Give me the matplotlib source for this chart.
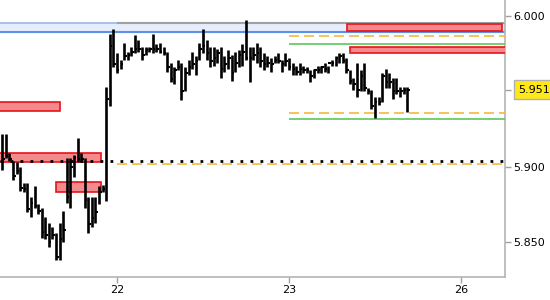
import matplotlib
matplotlib.use('Agg')
import matplotlib.pyplot as plt
from matplotlib.patches import Rectangle

# 30 minute bars
highs = [5.922, 5.922, 5.909, 5.904, 5.903, 5.900, 5.889, 5.889, 5.880, 5.887,
         5.875, 5.873, 5.867, 5.863, 5.860, 5.856, 5.863, 5.871, 5.906, 5.906,
         5.908, 5.919, 5.909, 5.906, 5.880, 5.880, 5.880, 5.887, 5.888, 5.953,
         5.988, 5.991, 5.975, 5.971, 5.982, 5.976, 5.979, 5.987, 5.984, 5.979,
         5.979, 5.979, 5.988, 5.981, 5.982, 5.979, 5.976, 5.969, 5.966, 5.971,
         5.969, 5.966, 5.971, 5.976, 5.973, 5.982, 5.991, 5.984, 5.979, 5.979,
         5.978, 5.979, 5.973, 5.977, 5.974, 5.976, 5.977, 5.981, 5.997, 5.979,
         5.979, 5.982, 5.979, 5.975, 5.973, 5.972, 5.973, 5.975, 5.971, 5.975,
         5.972, 5.969, 5.967, 5.969, 5.967, 5.966, 5.964, 5.965, 5.967, 5.967,
         5.969, 5.967, 5.971, 5.973, 5.975, 5.975, 5.972, 5.964, 5.959, 5.969,
         5.964, 5.969, 5.952, 5.951, 5.946, 5.946, 5.962, 5.965, 5.962, 5.959,
         5.959, 5.953, 5.953, 5.953]
lows = [5.898, 5.906, 5.904, 5.891, 5.895, 5.884, 5.883, 5.870, 5.867, 5.873,
        5.869, 5.853, 5.852, 5.847, 5.852, 5.838, 5.838, 5.850, 5.876, 5.873,
        5.893, 5.903, 5.903, 5.873, 5.856, 5.860, 5.863, 5.875, 5.883, 5.877,
        5.940, 5.966, 5.962, 5.965, 5.971, 5.971, 5.973, 5.975, 5.976, 5.971,
        5.974, 5.976, 5.975, 5.976, 5.975, 5.974, 5.963, 5.956, 5.955, 5.964,
        5.944, 5.950, 5.961, 5.965, 5.961, 5.971, 5.975, 5.971, 5.966, 5.967,
        5.969, 5.959, 5.963, 5.965, 5.957, 5.963, 5.966, 5.967, 5.971, 5.956,
        5.971, 5.969, 5.966, 5.964, 5.966, 5.963, 5.969, 5.969, 5.963, 5.967,
        5.964, 5.961, 5.961, 5.961, 5.962, 5.962, 5.956, 5.959, 5.962, 5.962,
        5.963, 5.962, 5.967, 5.967, 5.969, 5.969, 5.962, 5.955, 5.951, 5.946,
        5.950, 5.950, 5.948, 5.938, 5.932, 5.941, 5.943, 5.952, 5.952, 5.945,
        5.948, 5.946, 5.948, 5.936]
closes = [5.905, 5.907, 5.905, 5.894, 5.897, 5.886, 5.885, 5.872, 5.876, 5.874,
          5.871, 5.857, 5.855, 5.850, 5.855, 5.840, 5.852, 5.858, 5.880, 5.900,
          5.906, 5.905, 5.905, 5.878, 5.862, 5.866, 5.870, 5.883, 5.885, 5.945,
          5.980, 5.968, 5.964, 5.968, 5.973, 5.974, 5.976, 5.978, 5.978, 5.974,
          5.977, 5.978, 5.978, 5.978, 5.976, 5.975, 5.966, 5.958, 5.964, 5.966,
          5.950, 5.962, 5.966, 5.968, 5.970, 5.978, 5.980, 5.975, 5.970, 5.972,
          5.975, 5.965, 5.968, 5.972, 5.962, 5.969, 5.974, 5.976, 5.972, 5.972,
          5.974, 5.975, 5.970, 5.968, 5.969, 5.968, 5.971, 5.970, 5.968, 5.970,
          5.966, 5.965, 5.963, 5.965, 5.964, 5.964, 5.960, 5.964, 5.964, 5.966,
          5.965, 5.969, 5.969, 5.972, 5.973, 5.970, 5.964, 5.957, 5.955, 5.951,
          5.960, 5.952, 5.950, 5.940, 5.943, 5.943, 5.960, 5.956, 5.956, 5.950,
          5.950, 5.950, 5.951, 5.951]

first_bar = -32          # first bar, counted from the start of day 22
day_starts = [0, 48, 96]
day_labels = ['22', '23', '26']

# levels
band_low = 5.989
band_high = 5.995
gray_level = 5.9955
dotted_level = 5.9038
orange_levels = [5.9017, 5.9868, 5.9354]
orange_from = [0, 48, 48]
green_levels = [5.9813, 5.9316]
green_from = [48, 48]

# red zones
box_left = [-33, -33, -17, 64.2, 65]
box_right = [-15.9, -4.5, -4.5, 107.4, 110]
box_low = [5.9369, 5.9034, 5.8836, 5.9899, 5.9751]
box_high = [5.9427, 5.9090, 5.8898, 5.9942, 5.9790]

last_price = closes[-1]

fig = plt.figure(figsize=(5.5, 3), dpi=100)
ax = fig.add_axes([0, 0.0777, 505 / 550, 1 - 0.0777])
xmin, xmax = -32.65, 108.3

# blue band
ax.axhspan(band_low, band_high, color='#E6EDFC', zorder=1)
ax.axhline(band_high, color='#9DB6E6', lw=1.2, zorder=2)
ax.axhline(band_low, color='#5E90E8', lw=1.5, zorder=2)
ax.hlines(gray_level, 0, xmax, color='#A0A0A0', lw=1.5, zorder=2)

for i in range(len(box_left)):
    ax.add_patch(Rectangle((box_left[i], box_low[i]), box_right[i] - box_left[i],
                           box_high[i] - box_low[i], facecolor='#F48A8C',
                           edgecolor='#E8131B', lw=1.2, zorder=3))

for lv, x0 in zip(orange_levels, orange_from):
    ax.hlines(lv, x0, xmax, color='#F5B840', lw=1.2, linestyles=(0, (6, 3)), zorder=3)
for lv, x0 in zip(green_levels, green_from):
    ax.hlines(lv, x0, xmax, color='#5CC75C', lw=1.2, zorder=3)

ax.hlines(dotted_level, xmin, xmax, color='black', lw=2, linestyles=(0, (1, 2.6)), zorder=4)

xs = [first_bar + i for i in range(len(highs))]
ax.vlines(xs, lows, highs, color='black', lw=1.9, zorder=5)
ax.hlines(closes, xs, [x + 0.7 for x in xs], color='black', lw=1.5, zorder=5)

ax.set_xlim(xmin, xmax)
ax.set_ylim(5.8272, 6.0104)

ax.spines['left'].set_visible(False)
ax.spines['top'].set_visible(False)
ax.spines['right'].set_color('#B4B4B4')
ax.spines['bottom'].set_color('#B4B4B4')
ax.spines['right'].set_linewidth(1.2)
ax.spines['bottom'].set_linewidth(1.2)

ax.yaxis.tick_right()
ax.set_yticks([5.85, 5.90, last_price, 6.00])
ax.set_yticklabels(['5.850', '5.900', '', '6.000'])
ax.set_xticks(day_starts)
ax.set_xticklabels(day_labels)
ax.tick_params(axis='both', colors='#A0A0A0', labelcolor='black', labelsize=8,
               length=4, width=1)
ax.tick_params(axis='y', pad=2)
ax.tick_params(axis='x', pad=2)
for t in ax.yaxis.get_major_ticks():
    if abs(t.get_loc() - last_price) < 1e-6:
        t.tick2line.set_color('black')

ax.annotate('%.3f' % last_price, xy=(1.0, last_price), xycoords=('axes fraction', 'data'),
            xytext=(9.5, 0), textcoords='offset points', va='center', ha='left', fontsize=8,
            bbox=dict(boxstyle='square,pad=0.4', fc='#FFE81A', ec='#B0B0B0', lw=1),
            annotation_clip=False)

fig.savefig('out.png', dpi=100)
